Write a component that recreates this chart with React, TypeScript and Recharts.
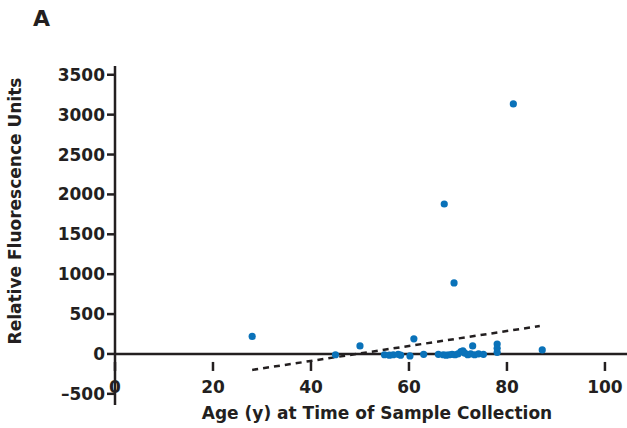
import {
  ScatterChart,
  Scatter,
  XAxis,
  YAxis,
  ReferenceLine,
  Label,
} from "recharts";

const ages = [
  28, 45, 50, 55, 56, 56.8, 57.8, 58.3, 60.2, 61, 63, 66, 67, 67.6, 68.2, 68.8,
  69.4, 70, 70.6, 71, 71.4, 72, 72.6, 73, 73.4, 74.2, 75.2, 67.2, 69.2, 78, 78,
  78, 81.3, 87.2,
];
const rfu = [
  220, -10, 100, -10, -15, -10, -5, -15, -25, 190, -5, -5, -10, -15, -10, -5,
  -10, 0, 30, 40, 10, -10, 0, 100, -10, 0, -5, 1880, 890, 125, 70, 20, 3135,
  50,
];

const trendAges = [28, 86.7];
const trendRfu = [-200, 350];

const xTicks = [0, 20, 40, 60, 80, 100];
const yTicks = [-500, 0, 500, 1000, 1500, 2000, 2500, 3000, 3500];

const points = ages.map((a, i) => ({ age: a, rfu: rfu[i] }));
const trend = trendAges.map((a, i) => ({ age: a, rfu: trendRfu[i] }));

const W = 627;
const H = 428;
const TOP = 66;
const XAXIS_H = 23;
const Y_MIN = -640;
const Y_MAX = 3610;
const PLOT_H = H - TOP - XAXIS_H;
// distance from plot bottom up to the y = 0 line
const zeroOffset = (PLOT_H * (0 - Y_MIN)) / (Y_MAX - Y_MIN);

const FONT = "'DejaVu Sans', 'Liberation Sans', Arial, sans-serif";
const FS = 17;
const INK = "#231f20";
const BLUE = "#0a72b9";

const textStyle = {
  fontSize: FS,
  fontWeight: "bold",
  fontFamily: FONT,
  fill: INK,
};

function XTick(props: any) {
  const { x, y, payload } = props;
  const y0 = y - zeroOffset;
  return (
    <g>
      <line x1={x} y1={y0} x2={x} y2={y0 + 9} stroke={INK} strokeWidth={2.5} />
      <text x={x} y={y0 + 31} textAnchor="middle" {...textStyle}>
        {payload.value}
      </text>
    </g>
  );
}

function YTitle() {
  return (
    <text
      transform="translate(21, 211) rotate(-90)"
      textAnchor="middle"
      {...textStyle}
    >
      Relative Fluorescence Units
    </text>
  );
}

export default function App() {
  return (
    <div
      style={{
        position: "absolute",
        left: 0,
        top: 0,
        width: W,
        height: H,
        background: "#fff",
        fontFamily: FONT,
      }}
    >
      <div
        style={{
          position: "absolute",
          left: 33,
          top: 8,
          fontSize: 22,
          lineHeight: "22px",
          fontWeight: "bold",
          color: INK,
        }}
      >
        A
      </div>
      <ScatterChart
        width={W}
        height={H}
        margin={{ top: TOP, right: 0, bottom: 0, left: 0 }}
      >
        <XAxis
          type="number"
          dataKey="age"
          domain={[0, 104.5]}
          ticks={xTicks}
          axisLine={false}
          tickLine={false}
          tick={<XTick />}
          height={XAXIS_H}
          allowDataOverflow
        >
          <Label
            value="Age (y) at Time of Sample Collection"
            position="insideBottom"
            offset={9}
            dx={6}
            style={textStyle}
          />
        </XAxis>
        <YAxis
          type="number"
          dataKey="rfu"
          domain={[Y_MIN, Y_MAX]}
          ticks={yTicks}
          width={115}
          axisLine={{ stroke: INK, strokeWidth: 2.5 }}
          tickLine={{ stroke: INK, strokeWidth: 2.5 }}
          tickSize={8}
          tick={textStyle}
          tickFormatter={(v) => (v < 0 ? `\u2013${Math.abs(v)}` : `${v}`)}
          allowDataOverflow
        >
          <Label content={<YTitle />} />
        </YAxis>
        <ReferenceLine y={0} stroke={INK} strokeWidth={2.5} />
        <Scatter
          data={trend}
          line={{ stroke: INK, strokeWidth: 2.5, strokeDasharray: "6 5" }}
          shape={() => null}
          isAnimationActive={false}
        />
        <Scatter
          data={points}
          fill={BLUE}
          shape={(p: any) => <circle cx={p.cx} cy={p.cy} r={3.6} fill={BLUE} />}
          isAnimationActive={false}
        />
      </ScatterChart>
    </div>
  );
}
